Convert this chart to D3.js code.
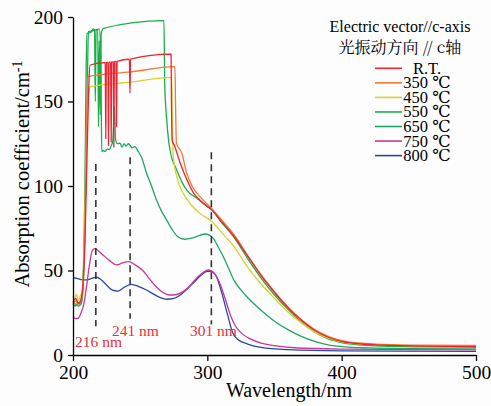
<!DOCTYPE html>
<html>
<head>
<meta charset="utf-8">
<script src="https://cdn.jsdelivr.net/npm/d3@7"></script>
<style>
  body { margin: 0; background: #fdfdfd; }
  svg { display: block; }
  svg text { font-family: "Liberation Serif", "DejaVu Serif", serif; }
</style>
</head>
<body>
<div id="chart"></div>
<script>
// --- data: [wavelength nm, absorption cm-1] ---
const seriesNames = ["R.T.", "350 ℃", "450 ℃", "550 ℃", "650 ℃", "750 ℃", "800 ℃"];

const rt = [[200,31],[202,33.5],[204,30.5],[206,33],[207.5,42],[209,70],[210.5,120],[211.8,160],[212.7,171.6],
  [224,173],[224.4,128],[224.8,173],[226,173.1],[226.4,124],[226.8,173.2],[228,173.3],[228.4,126],[228.8,173.4],
  [230,173.5],[230.4,123],[230.8,173.6],[232,173.7],[232.4,135],[232.8,173.8],[242,175],[242.4,155],[242.8,175.1],
  [273,178],[273.3,150],[273.8,127],[275.5,124],[279.6,114],[284.6,104],[290,95.5],[296,90.5],[303,86],[310,79.5],
  [320,70],[330,58.5],[340,47],[350,37],[360,28],[370,20.5],[380,14.5],[390,10.5],[400,8],[415,6.5],[430,5.8],[460,5.2],[500,5]];

const t350 = [[200,30],[202,32],[204,29.5],[206,32.5],[207.5,44],[209,80],[210.2,140],[211,164.7],[243,167.5],
  [275.9,170.6],[276.3,150],[277,125.4],[281,119.5],[284.6,107.7],[289,99.5],[294.5,93.7],[303,86.8],[310,80.5],
  [320,71],[330,59],[340,47.5],[350,37.5],[360,28.5],[370,21],[380,15],[390,11],[400,8.5],[415,7],[430,6.3],[460,5.8],[500,5.7]];

const t450 = [[200,35],[201,33],[202.5,36],[204,32],[205.5,35],[207,38],[208.5,70],[210,130],[211.5,154],[212.7,158.8],
  [243,161.5],[273.5,164.3],[273.9,140],[274.7,117.3],[277.2,105.5],[282,95.7],[287,89.8],[294.5,83.8],[303.3,79],
  [310,73],[320,64],[330,52],[340,42],[350,33.5],[360,25.5],[370,19],[380,13.5],[390,10],[400,7.8],[415,6.5],[430,6],[460,5.6],[500,5.5]];

const t550 = [[200,30],[202,29],[204,31],[206,30.5],[207.5,45],[209,110],[209.8,170],[210.5,190.3],[213.5,191],
  [215,193],[216,192.5],[216.6,150],[217.2,192],[218.4,192.7],[219,135],[219.6,186],[220.3,142],[221,190],[222.6,193.3],
  [267.7,197.8],[268.3,160],[269.8,139],[272.2,121.3],[277.2,109.5],[284.6,97.6],[292,92.9],[300,87.8],[303,86.3],
  [310,79],[320,69.5],[330,57],[340,45.5],[350,35.5],[360,27],[370,19.5],[380,13.5],[390,9.5],[400,7.3],[415,5.8],[430,5.2],[460,4.8],[500,4.6]];

const t650 = [[200,31],[202,30],[204,29],[206,30],[207.5,40],[209,80],[210.5,150],[211.5,191.3],[215,192],[218,192.5],
  [219.5,193],[220.5,185],[221,150],[221.4,120.3],[222.5,121],[224,120.5],[225.5,122],[227,121.5],[228.5,124],[229.5,126],
  [230.9,147],[231.6,128],[233,125],[235,125.3],[236.5,123],[238,125],[239.5,123.5],[241,125],[242.4,124.3],[244,122.5],
  [246,123.3],[248.5,120.5],[251,117],[255,107],[258,101],[262,92],[266,85],[270,79.5],[274,74],[278,70],[283,68.5],
  [290,69.5],[298.3,71.6],[304.4,69],[308,64],[312,58],[316,51],[320,44],[325,38.5],[330,34],[340,26.5],[350,20],
  [360,15],[370,11],[380,8],[390,6],[400,5],[420,4.2],[450,3.8],[500,3.6]];

const t750 = [[200,22.7],[202,21.5],[204,21.8],[206,25],[208,30],[210,40],[212,52],[214.5,62],[216.5,63],[219,61.5],
  [222.6,59],[227,56],[232.5,53.3],[237,54.5],[241.5,55.2],[246,53.5],[252,50],[257,45],[262,40.4],[267,37],[272,35.5],
  [277,35.8],[282,37.5],[287,41],[292,45.5],[297,49],[301,50.3],[305,48.5],[309,43],[313,34],[317,24],[321,17],
  [326,12.5],[332,9.5],[340,7],[350,5.5],[365,4.3],[400,3.5],[450,3.2],[500,3]];

const t800 = [[200,45.7],[203,45.3],[206,44.6],[210,44.4],[214,45.3],[217.5,46],[221,44.5],[225,41.4],[229,38.5],
  [233.5,37.8],[238,40],[243.5,41.8],[249,40.5],[255,38.3],[260,36],[265,34],[270,33],[275,33.5],[280,35.5],[285,39],
  [290,43],[295,47],[300,49.5],[303,49.3],[307,46],[311,36],[315,24],[319,13],[323,9],[330,6.5],[340,4.5],[360,3.2],
  [400,2.5],[500,2.2]];

const allSeries = [rt, t350, t450, t550, t650, t750, t800];
const colors = ["#ec2330", "#f27a3a", "#d9d030", "#18b044", "#1fa665", "#c8369c", "#2a4aa2"];

// marked peaks: label and where the dashed line sits, with its span
const peakLabels = ["216 nm", "241 nm", "301 nm"];
const peakAt = [217, 242.5, 303];
const peakTop = [113, 117, 120];
const peakBottom = [17, 21.5, 18];

const xTicks = [200, 300, 400, 500];
const yTicks = [0, 50, 100, 150, 200];

// --- chart setup ---
const W = 491, H = 406;
const margin = {top: 17, right: 15, bottom: 51, left: 73};
const serif = "'Liberation Serif', 'DejaVu Serif', serif";

const svg = d3.select("#chart").append("svg")
  .attr("width", W).attr("height", H);

const x = d3.scaleLinear().domain([200, 500]).range([margin.left, W - margin.right]);
const y = d3.scaleLinear().domain([0, 200]).range([H - margin.bottom, margin.top]);

const line = d3.line()
  .x(d => x(d[0]))
  .y(d => y(d[1]))
  .curve(d3.curveMonotoneX);

// curves (back to front so R.T. stays on top in the cluster)
svg.append("g")
  .selectAll("path")
  .data(allSeries.map((s, i) => ({s, i})).reverse())
  .join("path")
    .attr("d", d => line(d.s))
    .attr("fill", "none")
    .attr("stroke", d => colors[d.i])
    .attr("stroke-width", 1.3)
    .attr("stroke-linejoin", "round");

// dashed peak markers
svg.append("g")
  .selectAll("line")
  .data(peakAt)
  .join("line")
    .attr("x1", d => x(d)).attr("x2", d => x(d))
    .attr("y1", (d, i) => y(peakTop[i]))
    .attr("y2", (d, i) => y(peakBottom[i]))
    .attr("stroke", "#333")
    .attr("stroke-width", 1.6)
    .attr("stroke-dasharray", "7,5");

const labelPos = [[219, 5], [246.5, 11.5], [304.5, 11.5]];
svg.append("g")
  .selectAll("text")
  .data(peakLabels)
  .join("text")
    .attr("x", (d, i) => x(labelPos[i][0]))
    .attr("y", (d, i) => y(labelPos[i][1]))
    .attr("text-anchor", "middle")
    .attr("fill", "#e8303c")
    .style("font-family", serif)
    .style("font-size", "15.5px")
    .text(d => d);

// axes
const xAxis = svg.append("g")
  .attr("transform", `translate(0,${H - margin.bottom})`)
  .call(d3.axisBottom(x).tickValues(xTicks).tickSize(6).tickPadding(4).tickSizeOuter(0));

const yAxis = svg.append("g")
  .attr("transform", `translate(${margin.left},0)`)
  .call(d3.axisLeft(y).tickValues(yTicks).tickSize(5).tickPadding(5).tickSizeOuter(0));

[xAxis, yAxis].forEach(a => {
  a.attr("font-family", null);
  a.selectAll("path, line").attr("stroke", "#000").attr("stroke-width", 1.3);
  a.selectAll("text").attr("fill", "#000").style("font-size", "19.5px")
    .style("font-family", serif);
});

// axis titles
svg.append("text")
  .attr("x", 289).attr("y", 397)
  .attr("text-anchor", "middle")
  .style("font-family", serif)
  .style("font-size", "20px")
  .text("Wavelength/nm");

const yt = svg.append("text")
  .attr("transform", "translate(29,174) rotate(-90)")
  .attr("text-anchor", "middle")
  .style("font-family", serif)
  .style("font-size", "20.5px");
yt.append("tspan").text("Absorption coefficient/cm");
yt.append("tspan").attr("dy", "-0.5em").style("font-size", "14px").text("-1");

// legend
svg.append("text")
  .attr("x", 400).attr("y", 31.5)
  .attr("text-anchor", "middle")
  .style("font-family", serif)
  .style("font-size", "16px")
  .text("Electric vector//c-axis");

svg.append("text")
  .attr("x", 400).attr("y", 53)
  .attr("text-anchor", "middle")
  .style("font-size", "16px")
  .style("font-family", "'Noto Serif CJK SC', 'Noto Sans CJK SC', serif")
  .text("光振动方向 // c轴");

const legend = svg.append("g")
  .selectAll("g")
  .data(seriesNames)
  .join("g")
    .attr("transform", (d, i) => `translate(375,${68.3 + i * 14.55})`);

legend.append("line")
  .attr("x1", 0).attr("x2", 27)
  .attr("stroke", (d, i) => colors[i])
  .attr("stroke-width", 1.6);

legend.append("text")
  .attr("x", 52).attr("y", 5.5)
  .attr("text-anchor", "middle")
  .style("font-family", serif)
  .style("font-size", "16.5px")
  .text(d => d);
</script>
</body>
</html>
